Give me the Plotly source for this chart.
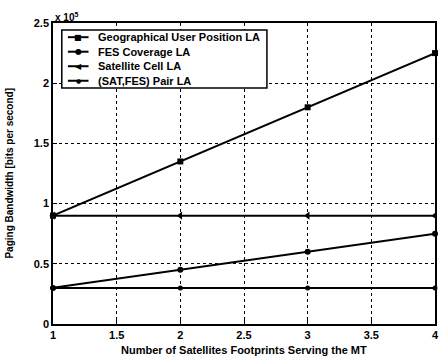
import plotly.graph_objects as go

x_footprints = [1, 2, 3, 4]
geo_user_pos = [0.9, 1.35, 1.8, 2.25]
fes_coverage = [0.3, 0.45, 0.6, 0.75]
sat_cell = [0.9, 0.9, 0.9, 0.9]
sat_fes_pair = [0.3, 0.3, 0.3, 0.3]
series_names = ["Geographical User Position LA", "FES Coverage LA", "Satellite Cell LA", "(SAT,FES) Pair LA"]
x_ticks = [1, 1.5, 2, 2.5, 3, 3.5, 4]
x_ticklabels = ["1", "1.5", "2", "2.5", "3", "3.5", "4"]
y_ticks = [0, 0.5, 1, 1.5, 2, 2.5]
y_ticklabels = ["0", "0.5", "1", "1.5", "2", "2.5"]

FONT = "Liberation Sans"
fig = go.Figure()
symbols = ["square", "circle", "triangle-left", "circle"]
sizes = [6, 6, 7, 5]
legend_glyphs = ["\u25A0", "\u25CF", "\u25C0", "\u25CF"]
glyph_sizes = [8, 8, 8, 6]
all_series = [geo_user_pos, fes_coverage, sat_cell, sat_fes_pair]
for name, ys, sym, sz in zip(series_names, all_series, symbols, sizes):
    fig.add_trace(go.Scatter(x=x_footprints, y=ys, mode="lines+markers", name=name,
                             line=dict(color="black", width=2),
                             marker=dict(symbol=sym, size=sz, color="black"),
                             cliponaxis=False, showlegend=False))

axis_common = dict(showline=True, linecolor="black", linewidth=1.5, mirror=True,
                   ticks="inside", ticklen=4, tickcolor="black",
                   showgrid=True, gridcolor="black", griddash="dot", gridwidth=0.8,
                   zeroline=False, automargin=False,
                   tickfont=dict(family=FONT, size=11, color="black", weight="bold"))

fig.update_xaxes(range=[1, 4], tickvals=x_ticks, ticktext=x_ticklabels, **axis_common)
fig.update_yaxes(range=[0, 2.5], tickvals=y_ticks, ticktext=y_ticklabels, **axis_common)

# compact legend box (paper coordinates), drawn manually for tighter row spacing
leg_x0, leg_x1, leg_y1, leg_y0 = 0.023, 0.56, 0.977, 0.784
row_step = (leg_y1 - leg_y0) / 4
fig.add_shape(type="rect", xref="paper", yref="paper", x0=leg_x0, x1=leg_x1, y0=leg_y0, y1=leg_y1,
              line=dict(color="black", width=1.5), fillcolor="white", layer="above")
legend_rows = [leg_y1 - row_step * (i + 0.5) for i in range(len(series_names))]
for name, yr, g, gs in zip(series_names, legend_rows, legend_glyphs, glyph_sizes):
    fig.add_shape(type="line", xref="paper", yref="paper", x0=0.039, x1=0.093, y0=yr, y1=yr,
                  line=dict(color="black", width=2), layer="above")
    fig.add_annotation(x=0.066, y=yr, xref="paper", yref="paper", xanchor="center", yanchor="middle",
                       text=g, showarrow=False,
                       font=dict(family="DejaVu Sans", size=gs, color="black"))
    fig.add_annotation(x=0.112, y=yr, xref="paper", yref="paper", xanchor="left", yanchor="middle",
                       text=name, showarrow=False,
                       font=dict(family=FONT, size=11, color="black", weight="bold"))

fig.add_annotation(x=0.5, y=-0.085, xref="paper", yref="paper", xanchor="center", yanchor="middle",
                   text="Number of Satellites Footprints Serving the MT", showarrow=False,
                   font=dict(family=FONT, size=11, color="black", weight="bold"))
fig.add_annotation(x=-0.115, y=0.5, xref="paper", yref="paper", xanchor="center", yanchor="middle",
                   text="Paging Bandwidth [bits per second]", showarrow=False, textangle=-90,
                   font=dict(family=FONT, size=10, color="black", weight="bold"))
fig.add_annotation(x=0, y=1, xref="paper", yref="paper", xanchor="left", yanchor="bottom",
                   text="x 10<sup>5</sup>", showarrow=False, yshift=-2,
                   font=dict(family=FONT, size=10, color="black", weight="bold"))

fig.update_layout(width=439, height=363,
                  margin=dict(l=53, r=4, t=23, b=39),
                  paper_bgcolor="white", plot_bgcolor="white",
                  showlegend=False)
fig.write_html("out.html", config={"displayModeBar": False},
               post_script="document.body.style.margin='0';document.body.style.overflow='hidden';")
